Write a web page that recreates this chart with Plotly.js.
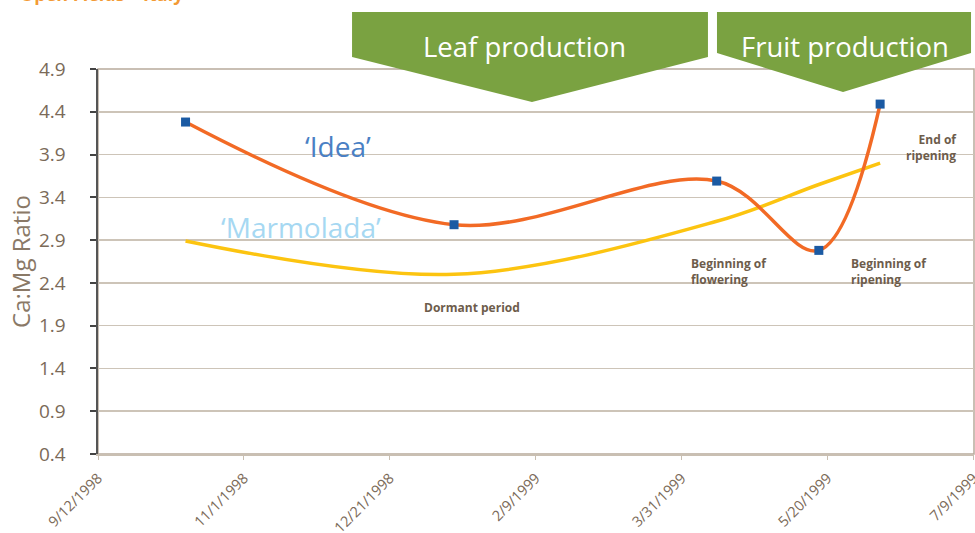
<!DOCTYPE html>
<html>
<head>
<meta charset="utf-8">
<script src="https://cdn.plot.ly/plotly-3.0.1.min.js"></script>
<style>html,body{margin:0;padding:0;background:#fff;}#chart{width:975px;height:533px;}</style>
</head>
<body>
<div id="chart"></div>
<script>
// ---- data ----
const sampleDates = ['1998-10-12', '1999-01-12', '1999-04-12', '1999-05-17', '1999-06-07'];
const ideaValues = [4.28, 3.08, 3.59, 2.78, 4.49];
const marmoladaValues = [2.89, 2.50, 3.12, 3.55, 3.80];
const xTickVals = ['1998-09-12', '1998-11-01', '1998-12-21', '1999-02-09', '1999-03-31', '1999-05-20', '1999-07-09'];
const xTickText = ['9/12/1998', '11/1/1998', '12/21/1998', '2/9/1999', '3/31/1999', '5/20/1999', '7/9/1999'];
const yTickVals = [0.4, 0.9, 1.4, 1.9, 2.4, 2.9, 3.4, 3.9, 4.4, 4.9];

const brown = '#7b6a58';
const green = '#7aa241';
const FONT = 'Open Sans, sans-serif';

const traces = [
  {
    x: sampleDates, y: marmoladaValues, type: 'scatter', mode: 'lines',
    name: "'Marmolada'",
    line: {color: '#fcc410', width: 3.5, shape: 'spline', smoothing: 1},
    hoverinfo: 'skip'
  },
  {
    x: sampleDates, y: ideaValues, type: 'scatter', mode: 'lines+markers',
    name: "'Idea'",
    line: {color: '#f26a25', width: 3.5, shape: 'spline', smoothing: 1},
    marker: {symbol: 'square', size: 9, color: '#1b5aa3'},
    hoverinfo: 'skip'
  }
];

function px(x) { return (x - 98) / 876; }
function py(y) { return (454 - y) / 385; }
function poly(pts) {
  return 'M ' + pts.map(p => px(p[0]).toFixed(4) + ' ' + py(p[1]).toFixed(4)).join(' L ') + ' Z';
}

const smallFont = {size: 12, color: '#6d5c4b', family: FONT, weight: 'bold'};

const layout = {
  width: 975, height: 533,
  margin: {l: 98, r: 1, t: 69, b: 79},
  paper_bgcolor: '#ffffff', plot_bgcolor: '#ffffff',
  showlegend: false,
  font: {family: FONT, color: brown},
  xaxis: {
    type: 'date',
    range: ['1998-09-12', '1999-07-09 04:00'],
    tickmode: 'array', tickvals: xTickVals, ticktext: xTickText,
    tickangle: -45,
    tickfont: {size: 14.5, color: brown, family: FONT},
    ticklabelstandoff: 4,
    ticklabeloverflow: 'allow',
    showgrid: false, zeroline: false,
    showline: true, linecolor: '#c9bfb2', linewidth: 2,
    ticks: 'outside', ticklen: 4, tickcolor: '#c9bfb2', tickwidth: 1
  },
  yaxis: {
    range: [0.4, 4.9],
    tickmode: 'array', tickvals: yTickVals, ticktext: yTickVals.map(v => v.toFixed(1)),
    tickfont: {size: 19, color: brown, family: FONT},
    ticklabelstandoff: 20,
    showgrid: true, gridcolor: '#cdc4b8', gridwidth: 1.5,
    zeroline: false,
    showline: true, linecolor: '#555555', linewidth: 2.5,
    ticks: 'outside', ticklen: 6, tickcolor: '#444444', tickwidth: 2,
    title: {text: 'Ca:Mg Ratio', font: {size: 24, color: '#8a7967', family: FONT}, standoff: 2}
  },
  shapes: [
    {type: 'rect', xref: 'paper', yref: 'paper', x0: 0, x1: 1, y0: 0, y1: 1,
     line: {color: '#b8ab9c', width: 1.5}, layer: 'below'},
    {type: 'path', xref: 'paper', yref: 'paper', layer: 'above',
     path: poly([[352, 12], [708, 12], [708, 57], [532, 102], [352, 57]]),
     fillcolor: green, line: {width: 0}},
    {type: 'path', xref: 'paper', yref: 'paper', layer: 'above',
     path: poly([[717, 12], [971, 12], [971, 53], [843, 92], [717, 53]]),
     fillcolor: green, line: {width: 0}}
  ],
  annotations: [
    {text: 'Open Fields – Italy', xref: 'paper', yref: 'paper', x: px(18), y: py(-6),
     xanchor: 'left', yanchor: 'middle', showarrow: false,
     font: {size: 18, color: '#f39a35', family: FONT, weight: 'bold'}},
    {text: 'Leaf production', xref: 'paper', yref: 'paper', x: px(524), y: py(47),
     xanchor: 'center', yanchor: 'middle', showarrow: false,
     font: {size: 27.5, color: '#ffffff', family: FONT}},
    {text: 'Fruit production', xref: 'paper', yref: 'paper', x: px(845), y: py(47),
     xanchor: 'center', yanchor: 'middle', showarrow: false,
     font: {size: 27.5, color: '#ffffff', family: FONT}},
    {text: '‘Idea’', xref: 'paper', yref: 'paper', x: px(338), y: py(146),
     xanchor: 'center', yanchor: 'middle', showarrow: false,
     font: {size: 28, color: '#4a80c4', family: FONT}},
    {text: '‘Marmolada’', xref: 'paper', yref: 'paper', x: px(301), y: py(227),
     xanchor: 'center', yanchor: 'middle', showarrow: false,
     font: {size: 28, color: '#a6d8f2', family: FONT}},
    {text: 'Dormant period', xref: 'paper', yref: 'paper', x: px(472), y: py(307),
     xanchor: 'center', yanchor: 'middle', showarrow: false,
     font: smallFont},
    {text: 'Beginning of<br>flowering', xref: 'paper', yref: 'paper', x: px(689), y: py(271),
     xanchor: 'left', yanchor: 'middle', align: 'left', showarrow: false,
     font: smallFont},
    {text: 'Beginning of<br>ripening', xref: 'paper', yref: 'paper', x: px(849), y: py(271),
     xanchor: 'left', yanchor: 'middle', align: 'left', showarrow: false,
     font: smallFont},
    {text: 'End of<br>ripening', xref: 'paper', yref: 'paper', x: px(959), y: py(147),
     xanchor: 'right', yanchor: 'middle', align: 'right', showarrow: false,
     font: smallFont}
  ]
};

Plotly.newPlot('chart', traces, layout, {displayModeBar: false, staticPlot: true});
</script>
</body>
</html>
